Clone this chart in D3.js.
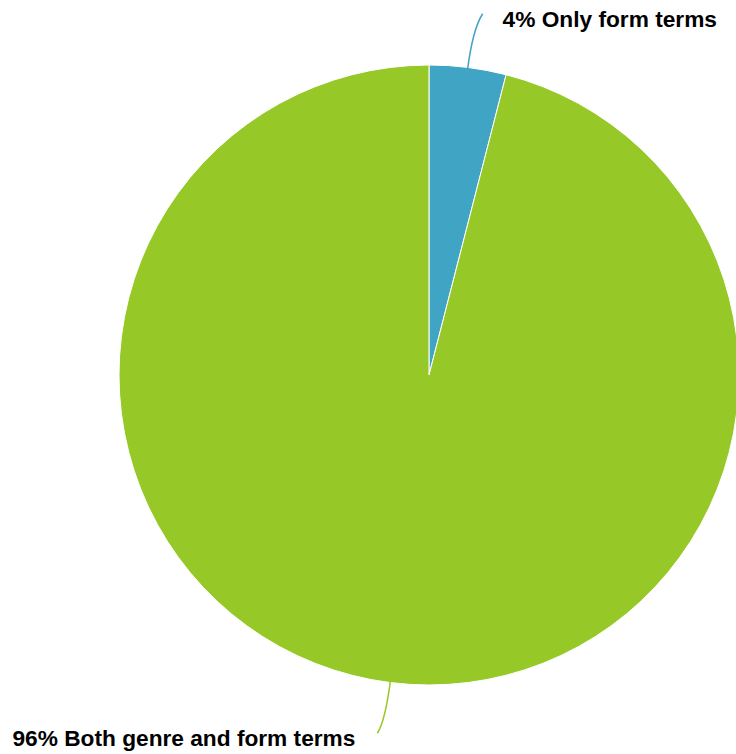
<!DOCTYPE html>
<html>
<head>
<meta charset="utf-8">
<script src="https://cdn.jsdelivr.net/npm/d3@7"></script>
<style>
  html, body { margin: 0; padding: 0; background: #ffffff; }
  svg { display: block; }
  text { font-family: "Liberation Sans", Arial, Helvetica, sans-serif; font-weight: bold; fill: #000; }
</style>
</head>
<body>
<svg id="chart" width="736" height="754"></svg>
<script>
// Share of records by term type
const categories = ["Only form terms", "Both genre and form terms"];
const shares = [4, 96];
const colors = ["#40a4c4", "#96c927"];

const svg = d3.select("#chart");
const cx = 429, cy = 375, radius = 310;

const pie = d3.pie().sort(null).value(d => d.value);
const arcs = pie(categories.map((c, i) => ({ name: c, value: shares[i], color: colors[i] })));

const arc = d3.arc().innerRadius(0).outerRadius(radius);

const g = svg.append("g").attr("transform", `translate(${cx},${cy})`);

g.selectAll("path.slice")
  .data(arcs)
  .join("path")
  .attr("class", "slice")
  .attr("d", arc)
  .attr("fill", d => d.data.color)
  .attr("stroke", "#ffffff")
  .attr("stroke-width", 1);

// Leader lines: leave the rim radially, then bend toward the label
const labelSpecs = [
  { out: 38, dx: 10, dy: -16, anchor: "start", tx: 20, ty: 13 },
  { out: 38, dx: -8, dy: 13, anchor: "end", tx: -22, ty: 13 }
];

arcs.forEach((d, i) => {
  const spec = labelSpecs[i];
  const mid = (d.startAngle + d.endAngle) / 2;
  const sx = Math.sin(mid), sy = -Math.cos(mid);
  const p0 = [sx * (radius - 2), sy * (radius - 2)];
  const p1 = [sx * (radius + spec.out), sy * (radius + spec.out)];
  const p2 = [p1[0] + spec.dx, p1[1] + spec.dy];
  const path = d3.path();
  path.moveTo(p0[0], p0[1]);
  path.quadraticCurveTo(p1[0], p1[1], p2[0], p2[1]);
  g.append("path")
    .attr("d", path.toString())
    .attr("fill", "none")
    .attr("stroke", d.data.color)
    .attr("stroke-width", 1.5);

  g.append("text")
    .attr("x", p2[0] + spec.tx)
    .attr("y", p2[1] + spec.ty)
    .attr("text-anchor", spec.anchor)
    .attr("font-size", 22.7)
    .text(`${d3.format(".0f")(d.data.value)}% ${d.data.name}`);
});
</script>
</body>
</html>
